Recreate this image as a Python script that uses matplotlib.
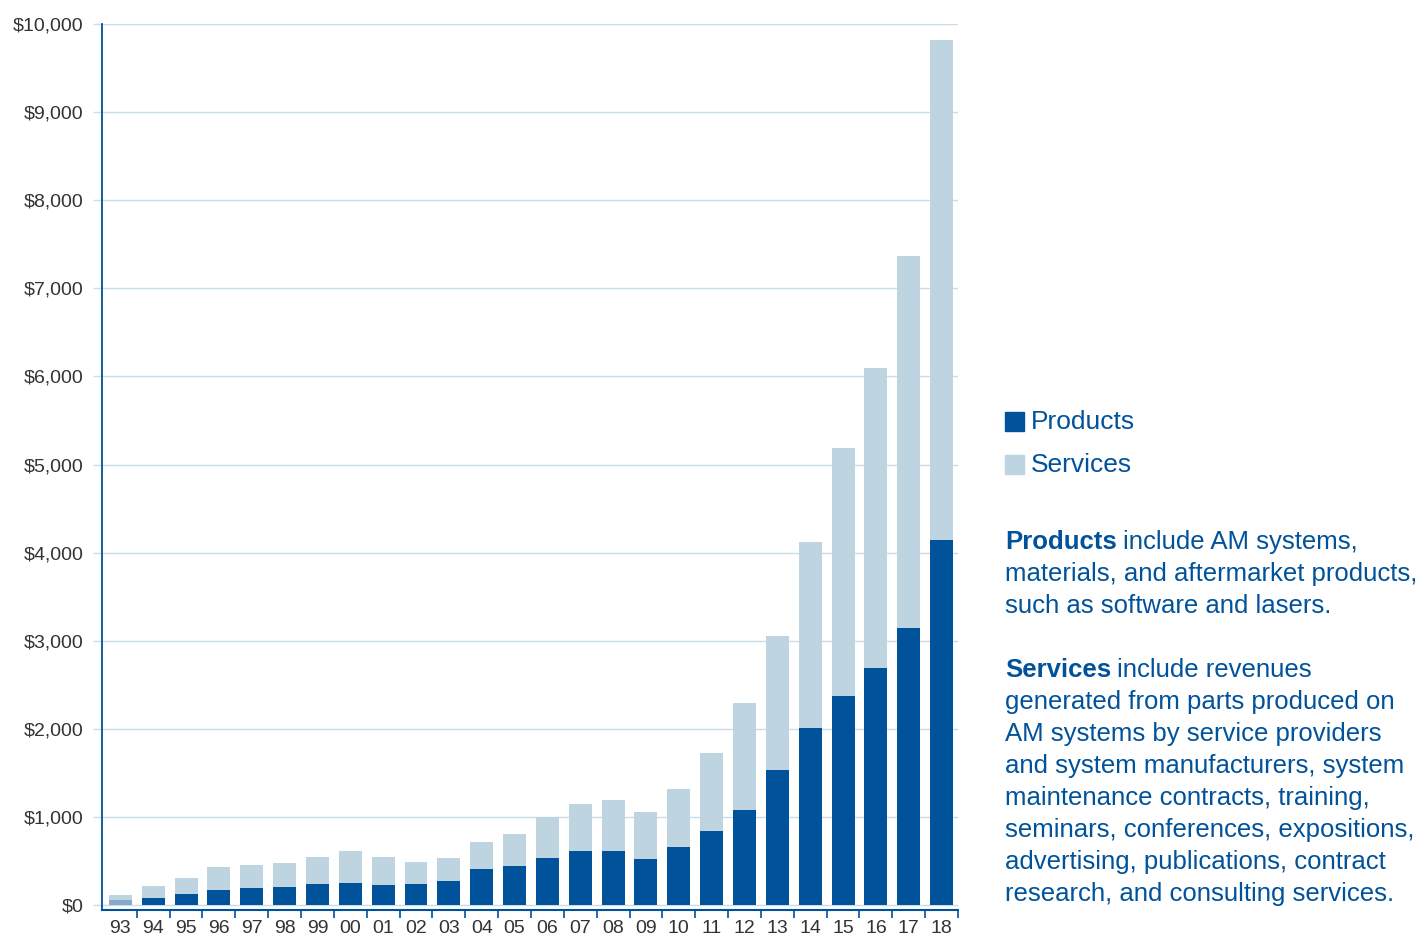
import matplotlib
matplotlib.use("Agg")
import matplotlib.pyplot as plt
from matplotlib.ticker import FixedLocator, FuncFormatter
import numpy as np

years = ["93", "94", "95", "96", "97", "98", "99", "00", "01", "02", "03", "04", "05",
         "06", "07", "08", "09", "10", "11", "12", "13", "14", "15", "16", "17", "18"]
products = [50, 80, 125, 170, 193, 205, 239, 250, 227, 239, 273, 409, 443,
            534, 614, 614, 523, 659, 841, 1080, 1535, 2011, 2375, 2693, 3148, 4148]
totals = [110, 216, 307, 432, 455, 477, 545, 614, 545, 489, 534, 716, 807,
          1000, 1148, 1193, 1057, 1318, 1727, 2296, 3057, 4125, 5193, 6091, 7364, 9818]
services = [t - p for t, p in zip(totals, products)]
yticks = list(range(0, 10001, 1000))

DARK = "#00529b"
LIGHT = "#bfd4e1"
GRID = "#c9dce9"
TXT = "#333333"
FONT = "Liberation Sans"
plt.rcParams["font.family"] = [FONT, "DejaVu Sans"]

W, H = 1421, 938
fig = plt.figure(figsize=(W / 100, H / 100), dpi=100)
ax = fig.add_axes([102.3 / W, (H - 910) / H, (958 - 102.3) / W, (910 - 24.3) / H])

x = np.arange(len(years))
pcolors = [DARK] * len(years)
pcolors[0] = "#86a9cc"
ax.bar(x, products, width=0.70, color=pcolors, zorder=3)
ax.bar(x, services, bottom=products, width=0.70, color=LIGHT, zorder=3)

ax.set_xlim(-0.55, 25.5)
ax.set_ylim(-60, 10000)
ax.set_yticks(yticks)
ax.yaxis.set_major_formatter(FuncFormatter(lambda v, p: "${:,.0f}".format(v)))
ax.grid(axis="y", color=GRID, linewidth=1.0, zorder=0)
ax.set_xticks(x)
ax.set_xticklabels(years)
ax.xaxis.set_minor_locator(FixedLocator(np.arange(0.5, 26, 1.0)))
ax.tick_params(axis="x", which="major", length=0, pad=7.5, labelsize=14, labelcolor=TXT)
ax.tick_params(axis="x", which="minor", length=6, width=1.2, color=DARK, direction="out")
ax.tick_params(axis="y", length=6.5, width=1.0, color=GRID, pad=7, labelsize=14, labelcolor=TXT)

for s in ["top", "right"]:
    ax.spines[s].set_visible(False)
ax.spines["left"].set_color(DARK)
ax.spines["left"].set_linewidth(1.3)
ax.spines["bottom"].set_color(DARK)
ax.spines["bottom"].set_linewidth(1.5)

# Legend
lx = 1005
for label, col, yc in [("Products", DARK, 422), ("Services", LIGHT, 465)]:
    fig.patches.append(plt.Rectangle((lx / W, (H - yc - 9.5) / H), 19 / W, 19 / H,
                                     transform=fig.transFigure, color=col, figure=fig))
    fig.text(1031 / W, (H - yc) / H, label, fontsize=19, color=DARK, va="center",
             ha="left", family=FONT)

# Descriptions
fig.canvas.draw()
renderer = fig.canvas.get_renderer()

def para(lines, y0, bold_word):
    for i, line in enumerate(lines):
        yc = (H - (y0 + 32 * i)) / H
        if i == 0:
            t = fig.text(lx / W, yc, bold_word, fontsize=18.5, color=DARK, weight="bold",
                         va="center", ha="left", family=FONT)
            bb = t.get_window_extent(renderer=renderer)
            fig.text((bb.x1 + 6) / W, yc, line, fontsize=18.5, color=DARK,
                     va="center", ha="left", family=FONT)
        else:
            fig.text(lx / W, yc, line, fontsize=18.5, color=DARK,
                     va="center", ha="left", family=FONT)

para(["include AM systems,", "materials, and aftermarket products,",
      "such as software and lasers."], 542, "Products")
para(["include revenues", "generated from parts produced on",
      "AM systems by service providers", "and system manufacturers, system",
      "maintenance contracts, training,", "seminars, conferences, expositions,",
      "advertising, publications, contract", "research, and consulting services."],
     670, "Services")

fig.savefig("out.png", dpi=100)
